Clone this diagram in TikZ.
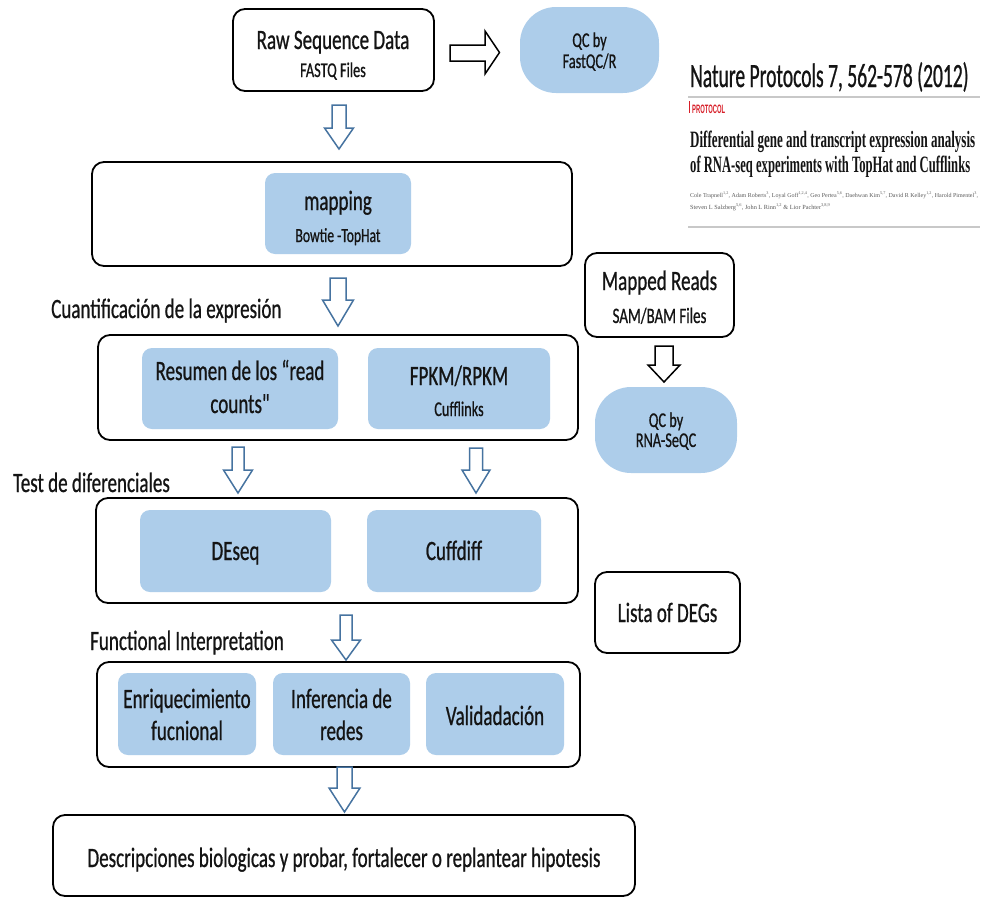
\documentclass[tikz,border=0pt]{standalone}
\usepackage{fontspec}
\usepackage{graphicx}
\setmainfont[FakeStretch=0.68,FakeBold=0.7]{Carlito}
\newfontfamily\qfont[FakeStretch=0.68,FakeBold=0.7]{Carlito}
\newfontfamily\natfont[FakeStretch=0.575,FakeBold=0.7]{Carlito}
\newfontfamily\serifbold{Liberation Serif}
\newfontfamily\sansbold{Liberation Sans}
\usetikzlibrary{calc}
\definecolor{qblue}{RGB}{173,205,234}
\definecolor{ablue}{RGB}{70,115,160}
\definecolor{ink}{RGB}{20,20,20}
\definecolor{rulegray}{RGB}{200,200,200}
\definecolor{protred}{RGB}{215,30,40}
\definecolor{authgray}{RGB}{90,90,90}
% vertical block arrow: style, x, top, shoulder, tip, shaft half width, head half width
\newcommand\vblk[7]{\draw[#1] (#2-#6,#3) -- (#2+#6,#3) -- (#2+#6,#4) -- (#2+#7,#4) -- (#2,#5) -- (#2-#7,#4) -- (#2-#6,#4) -- cycle;}
\begin{document}
\begin{tikzpicture}[x=1pt,y=-1pt,
  obox/.style={draw=black, line width=1.8pt, rounded corners=12pt, fill=white, inner sep=0pt, outer sep=0pt},
  bbox/.style={fill=qblue, rounded corners=10pt, inner sep=0pt, outer sep=0pt},
  stad/.style={fill=qblue, rounded corners=36pt, inner sep=0pt, outer sep=0pt},
  big/.style={font=\fontsize{28}{30}\selectfont, text=ink, inner sep=0pt, anchor=base},
  small/.style={font=\fontsize{21}{24}\selectfont, text=ink, inner sep=0pt, anchor=base},
  barrow/.style={draw=ablue, line width=1.5pt, fill=white, line join=miter},
  karrow/.style={draw=black, line width=1.5pt, fill=white, line join=miter},
  rulel/.style={draw=rulegray, line width=1.2pt}]
\useasboundingbox (0,0) rectangle (993,897);

% ---------- outer boxes ----------
\node[obox, minimum width=201pt, minimum height=82pt] (raw) at (333.5,50) {};
\node[obox, minimum width=480pt, minimum height=104pt] (map) at (332,214) {};
\node[obox, minimum width=480pt, minimum height=105pt] (quant) at (338,387.5) {};
\node[obox, minimum width=482pt, minimum height=105pt] (test) at (337,550.5) {};
\node[obox, minimum width=483pt, minimum height=105pt] (func) at (338.5,714.5) {};
\node[obox, minimum width=582pt, minimum height=81pt] (desc) at (344,855.5) {};
\node[obox, minimum width=149pt, minimum height=84pt] (mapped) at (659.5,295) {};
\node[obox, minimum width=145pt, minimum height=81pt] (lista) at (667.5,612.5) {};

% ---------- blue boxes ----------
\node[bbox, minimum width=146pt, minimum height=81pt] (mapping) at (338,213.5) {};
\node[bbox, minimum width=196pt, minimum height=81pt] (resumen) at (240,388.5) {};
\node[bbox, minimum width=182pt, minimum height=81pt] (fpkm) at (459,388.5) {};
\node[bbox, minimum width=191pt, minimum height=82pt] (deseq) at (235.5,551) {};
\node[bbox, minimum width=174pt, minimum height=82pt] (cuffdiff) at (454,551) {};
\node[bbox, minimum width=138pt, minimum height=82pt] (enriq) at (187,714) {};
\node[bbox, minimum width=137pt, minimum height=82pt] (infer) at (341.5,714) {};
\node[bbox, minimum width=138pt, minimum height=82pt] (valid) at (495,714) {};
\node[stad, minimum width=139pt, minimum height=86pt] (qc1) at (589.5,50) {};
\node[stad, minimum width=142pt, minimum height=86pt] (qc2) at (666,430) {};

% ---------- texts ----------
\node[big] (t-raw1) at (333,49) {Raw Sequence Data};
\node[small] (t-raw2) at (333,77) {FASTQ Files};
\node[small] (t-qc1a) at (589.5,47) {QC by};
\node[small] (t-qc1b) at (589.5,68) {FastQC/R};
\node[big] (t-map1) at (338,210) {mapping};
\node[small, font=\fontsize{20}{24}\selectfont] (t-map2) at (338,242) {Bowtie -TopHat};
\node[big] (t-mr1) at (659.5,290) {Mapped Reads};
\node[small, font=\fontsize{22}{24}\selectfont] (t-mr2) at (659.5,323) {SAM/BAM Files};
\node[small] (t-qc2a) at (666,427) {QC by};
\node[small] (t-qc2b) at (666,447) {RNA-SeQC};
\node[big] (t-res1) at (240,380) {Resumen de los “read};
\node[big] (t-res2) at (240,413) {counts{\qfont"}};
\node[big] (t-fp1) at (459,385) {FPKM/RPKM};
\node[small] (t-fp2) at (459,416) {Cufflinks};
\node[big] (t-de) at (235.5,560) {DEseq};
\node[big] (t-cd) at (454,560) {Cuffdiff};
\node[big] (t-li) at (667.5,622) {Lista of DEGs};
\node[big] (t-en1) at (187,708) {Enriquecimiento};
\node[big] (t-en2) at (187,740) {fucnional};
\node[big] (t-in1) at (341.5,708) {Inferencia de};
\node[big] (t-in2) at (341.5,740) {redes};
\node[big] (t-va) at (495,725) {Validadación};
\node[big] (t-desc) at (344,867) {Descripciones biologicas y probar, fortalecer o replantear hipotesis};
\node[big, anchor=base west] (l-cuant) at (51,318) {Cuantificación de la expresión};
\node[big, anchor=base west] (l-test) at (13,492) {Test de diferenciales};
\node[big, anchor=base west] (l-func) at (90,650) {Functional Interpretation};

% ---------- arrows ----------
\draw[karrow] (450,45) -- (485,45) -- (485,31) -- (499.5,52.5) -- (485,74) -- (485,61) -- (450,61) -- cycle;
\vblk{karrow}{664}{346}{365}{382}{9}{16}
\vblk{barrow}{339}{105}{128}{149}{7}{14.5}
\vblk{barrow}{338}{278}{300}{326}{8}{15.5}
\vblk{barrow}{238}{447}{470}{493}{6}{14.5}
\vblk{barrow}{476}{448}{470}{493}{6.5}{14}
\vblk{barrow}{346}{615}{640}{660}{6}{14.5}
\vblk{barrow}{344.5}{767}{788}{812}{7.5}{15.5}

% ---------- article snippet ----------
\node[inner sep=0pt, anchor=base west, text=ink, font=\natfont\fontsize{34}{36}\selectfont] (nat) at (690,87) {Nature Protocols 7, 562-578 (2012)};
\draw[rulel] (688,97) -- (980,97);
\draw[protred, line width=1pt] (689,101) -- (689,113);
\node[inner sep=0pt, anchor=base west, text=protred] (prot) at (692,113) {\resizebox{33pt}{8.5pt}{\sansbold\bfseries PROTOCOL}};
\node[inner sep=0pt, anchor=base west, text=ink] (ti1) at (690,147) {\resizebox{285pt}{16.5pt}{\serifbold\bfseries Differential gene and transcript expression analysis}};
\node[inner sep=0pt, anchor=base west, text=ink] (ti2) at (690,172) {\resizebox{280pt}{16.5pt}{\serifbold\bfseries of RNA-seq experiments with TopHat and Cufflinks}};
\node[inner sep=0pt, anchor=base west, text=authgray] (au1) at (690,197) {\resizebox{288pt}{!}{\serifbold\fontsize{10}{12}\selectfont Cole Trapnell\textsuperscript{1,2}, Adam Roberts\textsuperscript{3}, Loyal Goff\textsuperscript{1,2,4}, Geo Pertea\textsuperscript{5,6}, Daehwan Kim\textsuperscript{5,7}, David R Kelley\textsuperscript{1,2}, Harold Pimentel\textsuperscript{3},}};
\node[inner sep=0pt, anchor=base west, text=authgray] (au2) at (690,209) {\resizebox{140pt}{!}{\serifbold\fontsize{10}{12}\selectfont Steven L Salzberg\textsuperscript{5,6}, John L Rinn\textsuperscript{1,2} \& Lior Pachter\textsuperscript{3,8,9}}};
\draw[rulel] (688,227) -- (980,227);
\end{tikzpicture}
\end{document}
